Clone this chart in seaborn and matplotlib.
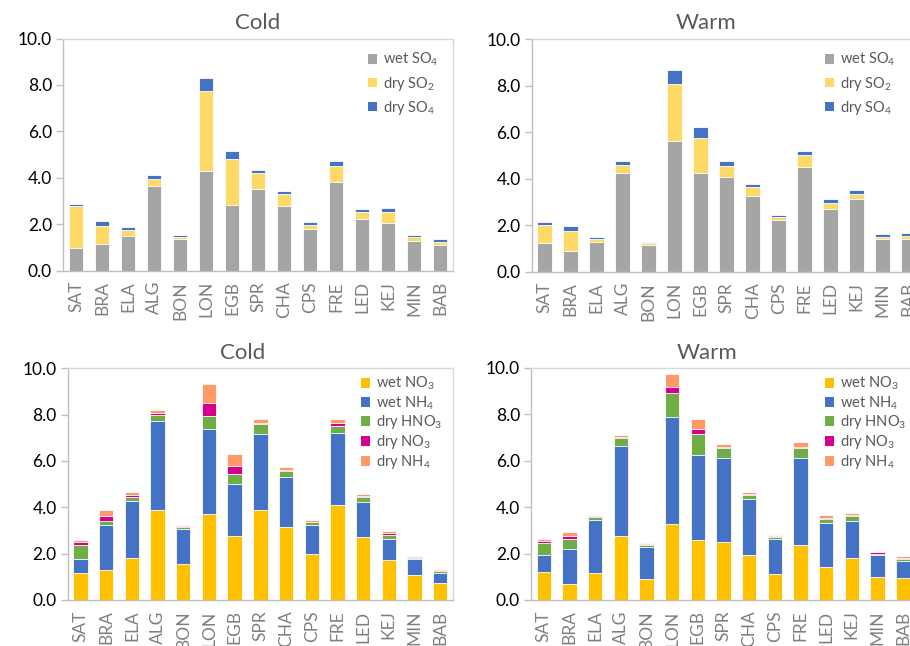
import numpy as np
import pandas as pd
import matplotlib
matplotlib.use("Agg")
import matplotlib.pyplot as plt
from matplotlib.patches import Patch
import seaborn as sns

# Sites along the x axis
sites = ["SAT", "BRA", "ELA", "ALG", "BON", "LON", "EGB", "SPR", "CHA",
         "CPS", "FRE", "LED", "KEJ", "MIN", "BAB"]

# Sulfur deposition, cold season
cold_wet_so4 = [0.96, 1.16, 1.51, 3.64, 1.35, 4.29, 2.84, 3.52, 2.80, 1.78, 3.83, 2.22, 2.05, 1.29, 1.10]
cold_dry_so2 = [1.82, 0.76, 0.24, 0.32, 0.08, 3.47, 1.95, 0.67, 0.50, 0.19, 0.70, 0.32, 0.46, 0.14, 0.12]
cold_dry_so4 = [0.10, 0.23, 0.13, 0.14, 0.09, 0.52, 0.37, 0.14, 0.13, 0.12, 0.18, 0.11, 0.17, 0.12, 0.14]

# Sulfur deposition, warm season
warm_wet_so4 = [1.25, 0.90, 1.29, 4.23, 1.15, 5.61, 4.23, 4.07, 3.24, 2.21, 4.52, 2.71, 3.13, 1.42, 1.42]
warm_dry_so2 = [0.76, 0.84, 0.10, 0.38, 0.07, 2.48, 1.54, 0.49, 0.39, 0.14, 0.49, 0.26, 0.21, 0.09, 0.13]
warm_dry_so4 = [0.11, 0.24, 0.10, 0.15, 0.07, 0.59, 0.46, 0.19, 0.13, 0.10, 0.20, 0.14, 0.18, 0.10, 0.13]

# Nitrogen deposition, cold season
cold_wet_no3 = [1.18, 1.29, 1.83, 3.88, 1.55, 3.71, 2.78, 3.88, 3.17, 1.99, 4.12, 2.71, 1.73, 1.08, 0.73]
cold_wet_nh4 = [0.60, 1.96, 2.44, 3.85, 1.53, 3.67, 2.21, 3.30, 2.14, 1.25, 3.09, 1.52, 0.90, 0.70, 0.45]
cold_dry_hno3 = [0.59, 0.16, 0.19, 0.27, 0.09, 0.56, 0.43, 0.40, 0.24, 0.11, 0.32, 0.22, 0.19, 0.05, 0.06]
cold_dry_no3 = [0.15, 0.20, 0.09, 0.09, 0.02, 0.56, 0.36, 0.06, 0.08, 0.03, 0.10, 0.05, 0.06, 0.03, 0.04]
cold_dry_nh4 = [0.07, 0.27, 0.10, 0.10, 0.05, 0.82, 0.54, 0.16, 0.10, 0.06, 0.18, 0.08, 0.08, 0.02, 0.06]

# Nitrogen deposition, warm season
warm_wet_no3 = [1.19, 0.69, 1.18, 2.75, 0.90, 3.27, 2.57, 2.51, 1.94, 1.12, 2.37, 1.41, 1.82, 0.99, 0.95]
warm_wet_nh4 = [0.73, 1.52, 2.25, 3.88, 1.40, 4.59, 3.69, 3.62, 2.41, 1.52, 3.76, 1.89, 1.59, 0.93, 0.71]
warm_dry_hno3 = [0.52, 0.43, 0.13, 0.33, 0.08, 1.04, 0.87, 0.43, 0.18, 0.09, 0.41, 0.20, 0.22, 0.07, 0.10]
warm_dry_no3 = [0.11, 0.11, 0.06, 0.06, 0.03, 0.25, 0.23, 0.04, 0.03, 0.02, 0.06, 0.04, 0.04, 0.06, 0.06]
warm_dry_nh4 = [0.08, 0.18, 0.05, 0.10, 0.04, 0.56, 0.42, 0.11, 0.09, 0.05, 0.19, 0.10, 0.07, 0.03, 0.06]

s_labels = ["wet SO$_4$", "dry SO$_2$", "dry SO$_4$"]
s_colors = ["#A5A5A5", "#FFD966", "#4472C4"]
n_labels = ["wet NO$_3$", "wet NH$_4$", "dry HNO$_3$", "dry NO$_3$", "dry NH$_4$"]
n_colors = ["#FFC000", "#4472C4", "#70AD47", "#D6008F", "#FF9966"]

sns.set_style("white")
plt.rcParams["font.family"] = ["Lato", "DejaVu Sans"]
plt.rcParams["mathtext.fontset"] = "custom"
plt.rcParams["mathtext.rm"] = "Lato"
plt.rcParams["mathtext.it"] = "Lato"
plt.rcParams["mathtext.default"] = "regular"

W, H = 910, 646
fig = plt.figure(figsize=(W / 100, H / 100), dpi=100)


def add_axes(x0, y_top, x1, y_bot):
    return fig.add_axes([x0 / W, 1 - y_bot / H, (x1 - x0) / W, (y_bot - y_top) / H])


def stacked(ax, series, colors, labels, legend_xy, spacing):
    df = pd.DataFrame({"site": sites})
    cum = np.cumsum(np.array(series, dtype=float), axis=0)
    # draw cumulative totals from the tallest down so each layer shows as a segment
    for k in range(len(series) - 1, -1, -1):
        df["v"] = cum[k]
        sns.barplot(data=df, x="site", y="v", color=colors[k], width=0.56,
                    saturation=1, edgecolor="white", linewidth=0.6, ax=ax)
    ax.set_xlim(-0.5, len(sites) - 0.5)
    ax.set_ylim(0, 10)
    ax.set_yticks(np.arange(0, 10.1, 2))
    ax.set_yticklabels([f"{v:.1f}" for v in np.arange(0, 10.1, 2)],
                       fontsize=12.5, color="black")
    ax.set_xticks(range(len(sites)))
    ax.set_xticklabels(sites, rotation=90, fontsize=12.5, color="#7F7F7F")
    ax.set_xlabel("")
    ax.set_ylabel("")
    for side in ["top", "right"]:
        ax.spines[side].set_visible(True)
        ax.spines[side].set_color("#D9D9D9")
        ax.spines[side].set_linewidth(1.0)
    for side in ["left", "bottom"]:
        ax.spines[side].set_color("#BFBFBF")
        ax.spines[side].set_linewidth(1.0)
    ax.tick_params(axis="y", which="major", left=True, length=5, width=1,
                   color="#BFBFBF", pad=3)
    ax.tick_params(axis="x", bottom=False, pad=4)
    handles = [Patch(facecolor=c, edgecolor="none") for c in colors]
    fig.legend(handles, labels, loc="upper left",
               bbox_to_anchor=(legend_xy[0] / W, 1 - legend_xy[1] / H),
               frameon=False, fontsize=10.5, labelcolor="#595959",
               handlelength=0.65, handleheight=0.65, handletextpad=0.4,
               labelspacing=spacing, borderaxespad=0, borderpad=0)


ax1 = add_axes(63, 38.5, 453, 270.7)
stacked(ax1, [cold_wet_so4, cold_dry_so2, cold_dry_so4], s_colors, s_labels, (368, 51), 0.42)
ax2 = add_axes(531.7, 39.3, 921.7, 271.7)
stacked(ax2, [warm_wet_so4, warm_dry_so2, warm_dry_so4], s_colors, s_labels, (825, 51), 0.42)
ax3 = add_axes(67.7, 368.3, 453, 600)
stacked(ax3, [cold_wet_no3, cold_wet_nh4, cold_dry_hno3, cold_dry_no3, cold_dry_nh4],
        n_colors, n_labels, (361, 375), 0.12)
ax4 = add_axes(531, 367.7, 916, 600)
stacked(ax4, [warm_wet_no3, warm_wet_nh4, warm_dry_hno3, warm_dry_no3, warm_dry_nh4],
        n_colors, n_labels, (825, 375), 0.12)

for x, y, t in [(258, 23, "Cold"), (706, 23, "Warm"), (243, 353, "Cold"), (707, 353, "Warm")]:
    fig.text(x / W, 1 - y / H, t, ha="center", va="center", fontsize=16, color="#595959")

fig.savefig("out.png", dpi=100)
